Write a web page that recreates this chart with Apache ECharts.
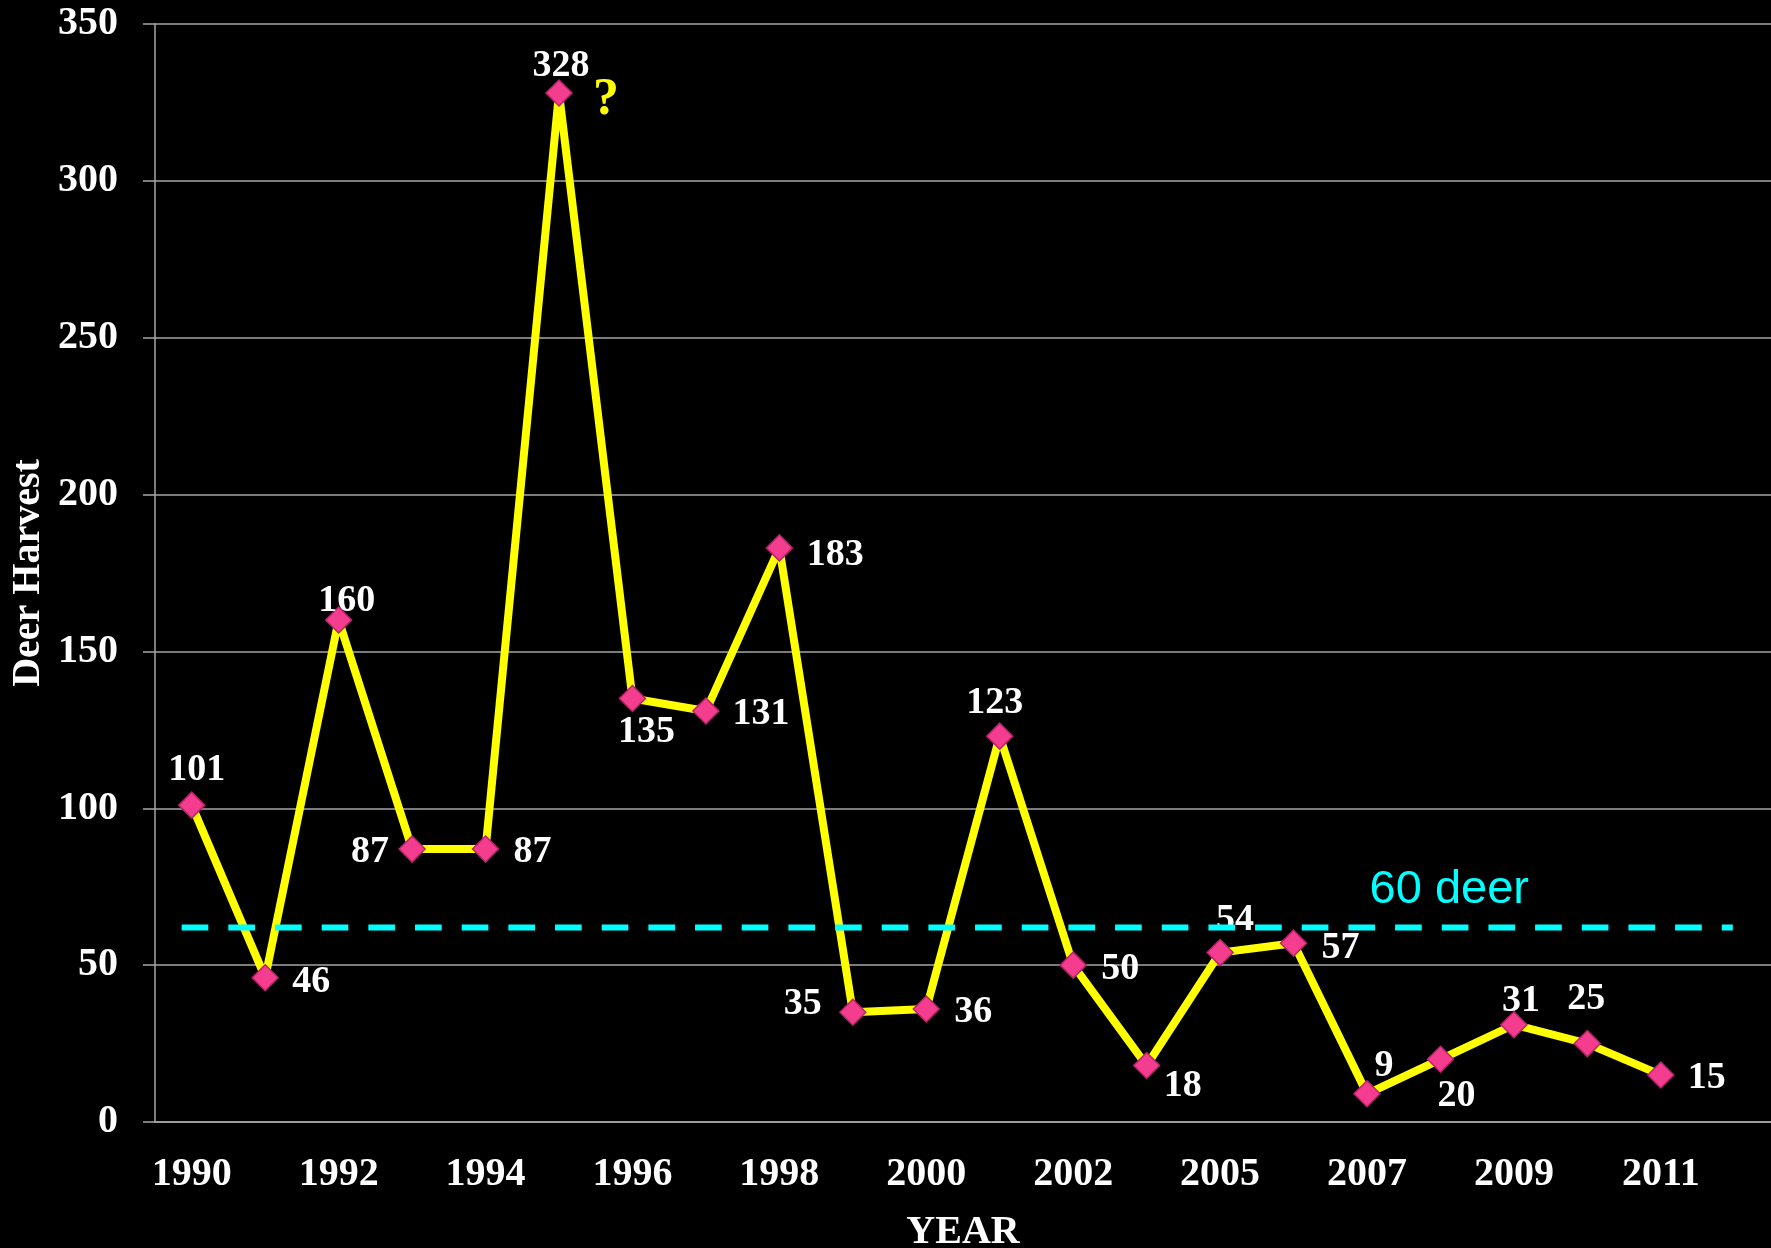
<!DOCTYPE html>
<html>
<head>
<meta charset="utf-8">
<script src="https://cdn.jsdelivr.net/npm/echarts@6.0.0/dist/echarts.min.js"></script>
<style>
html,body{margin:0;padding:0;background:#000;overflow:hidden;}
#chart{width:1771px;height:1248px;}
</style>
</head>
<body>
<div id="chart"></div>
<script>
// ---- data ----
const years = ['1990','1991','1992','1993','1994','1995','1996','1997','1998','1999','2000','2001','2002','2003','2005','2006','2007','2008','2009','2010','2011',''];
const harvest = [101,46,160,87,87,328,135,131,183,35,36,123,50,18,54,57,9,20,31,25,15];
const yTicks = [0,50,100,150,200,250,300,350];
const thresholdValue = 62;
const thresholdText = '60 deer';
const questionText = '?';
const yAxisTitle = 'Deer Harvest';
const xAxisTitle = 'YEAR';

// ---- label layout (styling only) ----
const labelLayout = [[5,-35],[46,4],[8,-19],[-42,3],[47,3],[2,-27],[14,34],[55,3],[56,7],[-50,-8],[47,3],[-5,-33],[47,4],[36,21],[15,-32],[47,5],[17,-28],[16,37],[7,-24],[-1,-44],[46,3]];

const SERIF = "'Liberation Serif', 'DejaVu Serif', serif";
const GRID = '#a6a6a6';

const chart = echarts.init(document.getElementById('chart'), null, {renderer:'canvas'});
const option = {
  backgroundColor: '#000',
  animation: false,
  grid: {left: 155, right: 0, top: 24, bottom: 126, containLabel: false, outerBoundsMode: 'none'},
  xAxis: [{
    type: 'category',
    data: years,
    boundaryGap: true,
    axisLine: {show: true, lineStyle: {color: GRID, width: 1.5}},
    axisTick: {show: false},
    axisLabel: {interval: 1, color: '#fff', fontFamily: SERIF, fontWeight: 'bold', fontSize: 40, margin: 33},
    splitLine: {show: false},
    name: xAxisTitle,
    nameLocation: 'middle',
    nameGap: 91,
    nameMoveOverlap: false,
    nameTextStyle: {color: '#fff', fontFamily: SERIF, fontWeight: 'bold', fontSize: 40}
  }, {
    type: 'value',
    min: -0.5,
    max: years.length - 0.5,
    show: false
  }],
  yAxis: {
    type: 'value',
    min: yTicks[0],
    max: yTicks[yTicks.length - 1],
    interval: yTicks[1] - yTicks[0],
    axisLine: {show: true, onZero: false, lineStyle: {color: GRID, width: 1.5}},
    axisTick: {show: true, length: 12, lineStyle: {color: GRID, width: 1.5}},
    axisLabel: {color: '#fff', fontFamily: SERIF, fontWeight: 'bold', fontSize: 40, margin: 37, padding: [6, 0, 0, 0]},
    splitLine: {show: true, lineStyle: {color: GRID, width: 1.5}},
    name: yAxisTitle,
    nameLocation: 'middle',
    nameGap: 106,
    nameMoveOverlap: false,
    nameTextStyle: {color: '#fff', fontFamily: SERIF, fontWeight: 'bold', fontSize: 40}
  },
  series: [{
    name: 'Deer Harvest',
    type: 'line',
    z: 2,
    data: harvest.map((v, i) => ({value: v, label: {offset: labelLayout[i]}})),
    symbol: 'diamond',
    symbolSize: 26,
    itemStyle: {color: '#f53d8f', borderColor: '#b8246a', borderWidth: 1.5},
    lineStyle: {color: '#ffff00', width: 8},
    label: {show: true, position: 'inside', align: 'center', verticalAlign: 'middle', color: '#fff', textBorderWidth: 0, fontFamily: SERIF, fontWeight: 'bold', fontSize: 38}
  }, {
    name: 'threshold',
    type: 'line',
    xAxisIndex: 1,
    z: 10,
    symbol: 'none',
    data: [[-0.137, thresholdValue], [20.98, thresholdValue]],
    lineStyle: {color: '#00ffff', width: 6, type: [26.67, 20]},
    silent: true
  }, {
    name: 'notes',
    type: 'scatter',
    xAxisIndex: 1,
    z: 11,
    symbolSize: 0,
    silent: true,
    itemStyle: {opacity: 1},
    data: [
      {value: [17.12, 74], name: thresholdText, label: {color: '#00ffff', fontFamily: "'Liberation Sans', Arial, sans-serif", fontWeight: 'normal', fontSize: 47}},
      {value: [5.64, 325.5], name: questionText, label: {color: '#ffff00', fontFamily: SERIF, fontWeight: 'bold', fontSize: 52}}
    ],
    label: {show: true, position: 'inside', align: 'center', verticalAlign: 'middle', textBorderWidth: 0, opacity: 1, formatter: p => p.name}
  }]
};
chart.setOption(option);
</script>
</body>
</html>
